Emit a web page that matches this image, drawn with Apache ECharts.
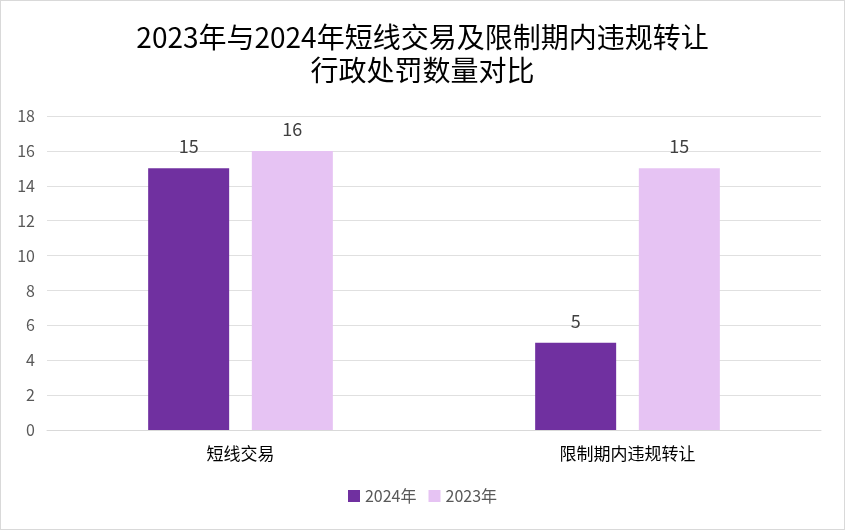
<!DOCTYPE html>
<html>
<head>
<meta charset="utf-8">
<script src="https://cdn.jsdelivr.net/npm/echarts@6/dist/echarts.min.js"></script>
<style>
html,body{margin:0;padding:0;background:#fff;}
#c{width:845px;height:530px;box-sizing:border-box;border:1px solid #d9d9d9;}
</style>
</head>
<body>
<div id="c"></div>
<script>
const titleLines = ['2023年与2024年短线交易及限制期内违规转让', '行政处罚数量对比'];
const categories = ['短线交易', '限制期内违规转让'];
const seriesNames = ['2024年', '2023年'];
const values2024 = [15, 5];
const values2023 = [16, 15];
const yTicks = [0, 2, 4, 6, 8, 10, 12, 14, 16, 18];

const chart = echarts.init(document.getElementById('c'));
const font = '"Noto Sans CJK SC", "Noto Sans", sans-serif';
chart.setOption({
  animation: false,
  title: {
    text: titleLines.join('\n'),
    left: 'center',
    top: 15,
    textStyle: {fontFamily: font, fontSize: 28, fontWeight: 'normal', color: '#000', lineHeight: 33}
  },
  legend: {
    bottom: 20,
    left: 'center',
    itemWidth: 12, itemHeight: 12, itemGap: 12,
    icon: 'rect',
    textStyle: {fontFamily: font, fontSize: 16, color: '#595959'},
    data: seriesNames
  },
  grid: {left: 46, right: 23, top: 115, bottom: 99, containLabel: false},
  xAxis: {
    type: 'category',
    data: categories,
    axisLine: {lineStyle: {color: '#d9d9d9', width: 1}},
    axisTick: {show: false},
    axisLabel: {fontFamily: font, fontSize: 17, color: '#000', margin: 15}
  },
  yAxis: {
    type: 'value',
    min: yTicks[0], max: yTicks[yTicks.length - 1], interval: 2,
    axisLine: {show: false},
    axisTick: {show: false},
    axisLabel: {fontFamily: font, fontSize: 16, color: '#595959', margin: 12},
    splitLine: {lineStyle: {color: '#e0e0e0', width: 1}}
  },
  series: [
    {name: seriesNames[0], type: 'bar', data: values2024, barWidth: 81, barGap: '28%',
     itemStyle: {color: '#7030A0'},
     label: {show: true, position: 'top', distance: 13, fontFamily: font, fontSize: 18, color: '#404040'}},
    {name: seriesNames[1], type: 'bar', data: values2023, barWidth: 81, barGap: '28%',
     itemStyle: {color: '#E6C3F3'},
     label: {show: true, position: 'top', distance: 13, fontFamily: font, fontSize: 18, color: '#404040'}}
  ]
});
</script>
</body>
</html>
